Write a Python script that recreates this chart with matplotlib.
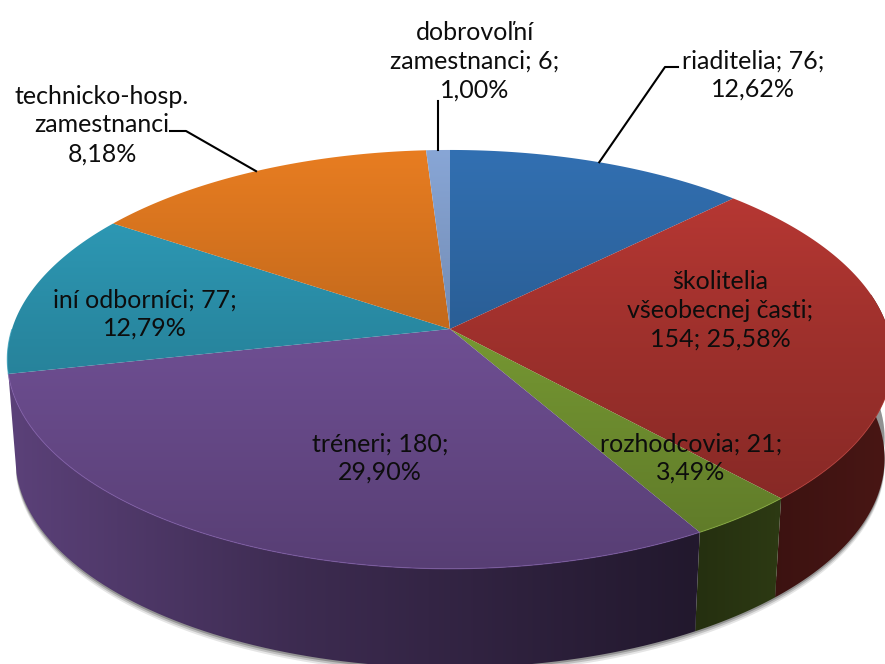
import numpy as np
import matplotlib
matplotlib.use('Agg')
import matplotlib.pyplot as plt
from matplotlib.patches import Polygon

### DATA ###
categories = ['riaditelia', 'školitelia', 'rozhodcovia', 'tréneri', 'iní odborníci', 'technicko-hosp.', 'dobrovoľní']
values = [76, 154, 21, 180, 77, 88, 6]
colors = [(50, 112, 178), (190, 58, 53), (140, 180, 60), (132, 94, 175), (48, 162, 192), (232, 125, 33), (136, 166, 214)]
labels = ['riaditelia; 76;\n12,62%', 'školitelia\nvšeobecnej časti;\n154; 25,58%', 'rozhodcovia; 21;\n3,49%',
          'tréneri; 180;\n29,90%', 'iní odborníci; 77;\n12,79%', 'technicko-hosp.\nzamestnanci\n8,18%',
          'dobrovoľní\nzamestnanci; 6;\n1,00%']
label_pos = [(753, 75), (720, 310), (691, 458), (380, 458), (145, 314), (102, 125), (475, 61)]

### PIE GEOMETRY ###
CX, CY = 450, 329
A, B, K = 438, 205, 0.145
A_LOW, DEPTH = 430, 99


def project(theta, low=False):
    # theta in degrees, clockwise from 12 o'clock
    u = np.sin(np.radians(theta))
    v = np.cos(np.radians(theta))
    w = 1 + K * v
    if low:
        return CX + A_LOW * u / w, CY + DEPTH - B * v / w
    return CX + A * u / w, CY - B * v / w


def shaded(color, factor):
    rgb = np.array(color) / 255
    return np.clip(rgb[None, None, :] * factor[:, :, None], 0, 1)


fig = plt.figure(figsize=(8.85, 6.64), dpi=100)
ax = fig.add_axes([0, 0, 1, 1])
ax.set_xlim(0, 885)
ax.set_ylim(664, 0)
ax.axis('off')

xx, yy = np.meshgrid(np.arange(885) + 0.5, np.arange(664) + 0.5)
top_light = np.interp(yy, [150, 330, 570], [1.0, 0.84, 0.66])
side_light = np.interp(xx, [0, 300, 690, 780, 885], [0.70, 0.46, 0.26, 0.32, 0.38])
edges = np.cumsum([0] + values) / sum(values) * 360


def paint(points, factor, color, zorder):
    im = ax.imshow(shaded(color, factor), extent=(0, 885, 664, 0), zorder=zorder, interpolation='bilinear', aspect='auto')
    im.set_clip_path(Polygon(points, closed=True, transform=ax.transData))


### SHADOW UNDER THE PIE ###
arc = np.linspace(85, edges[4], 200)
bx, by = project(arc, low=True)
for off, alpha in zip([6, 4, 2], [0.10, 0.16, 0.24]):
    ax.fill(np.r_[bx, bx[::-1]], np.r_[by + off, by[::-1] - 20], color='black', alpha=alpha, lw=0, zorder=1)

### SIDE WALL ###
for i in range(4):
    start, end = max(edges[i], 80), edges[i + 1]
    if end <= start:
        continue
    arc = np.linspace(start, end, 80)
    x1, y1 = project(arc)
    x2, y2 = project(arc, low=True)
    pts = np.c_[np.r_[x1, x2[::-1]], np.r_[y1, y2[::-1]]]
    paint(pts, side_light, colors[i], 2)

### TOP SURFACE ###
for i in range(len(values)):
    arc = np.linspace(edges[i], edges[i + 1], 150)
    x1, y1 = project(arc)
    pts = np.c_[np.r_[CX, x1], np.r_[CY, y1]]
    paint(pts, top_light, colors[i], 3)
    # thin lighter rim on the front edge
    front = (arc > 90) & (arc < 270)
    if front.any():
        rim = np.clip(np.array(colors[i]) / 255 * 0.95, 0, 1)
        ax.plot(x1[front], y1[front], color=rim, lw=0.8, alpha=0.7, zorder=4)

### LEADER LINES ###
mids = (edges[:-1] + edges[1:]) / 2
x0, y0 = project(mids[0])
ax.plot([x0, 665, 678], [y0, 67, 67], color='black', lw=1.5, zorder=5)
x0, y0 = project(mids[5])
ax.plot([x0, 186, 170], [y0, 131, 131], color='black', lw=1.5, zorder=5)
x0, y0 = project(mids[6])
ax.plot([x0, x0], [y0, 101], color='black', lw=1.5, zorder=5)

### LABELS ###
for text, (lx, ly) in zip(labels, label_pos):
    ax.text(lx, ly, text, ha='center', va='center', family='Lato', fontsize=18,
            linespacing=1.3, color='#0d0d0d', zorder=6)

ax.set_xlim(0, 885)
ax.set_ylim(664, 0)
fig.savefig('out.png', dpi=100)
